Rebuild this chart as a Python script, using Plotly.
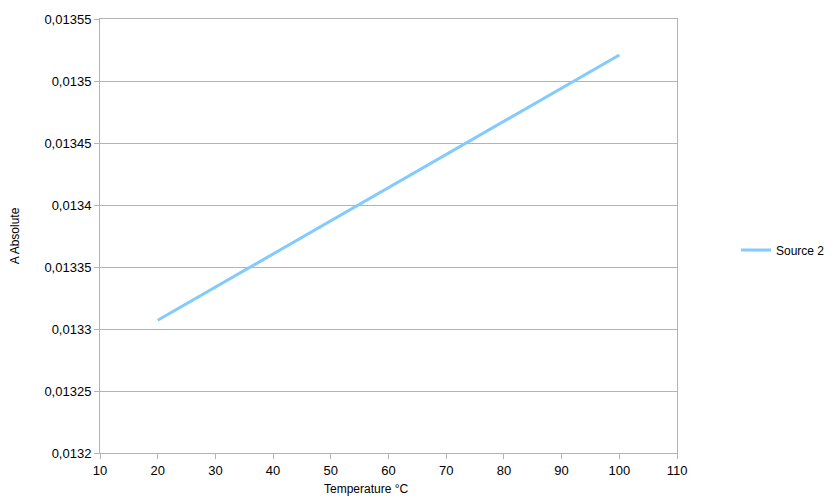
import plotly.graph_objects as go

temperature = [20, 100]
a_absolute = [0.013307, 0.013521]
series_name = "Source 2"

x_ticks = list(range(10, 111, 10))
y_ticks = [0.0132, 0.01325, 0.0133, 0.01335, 0.0134, 0.01345, 0.0135, 0.01355]

fig = go.Figure()
fig.add_trace(go.Scatter(
    x=temperature, y=a_absolute, mode="lines", name=series_name,
    line=dict(color="#83CAFF", width=3),
))

grid = "#b3b3b3"
# page body has an 8px margin, so the figure is drawn 8px smaller with offset margins
fig.update_layout(
    width=832, height=493,
    margin=dict(l=92, r=162, t=11, b=48),
    paper_bgcolor="white", plot_bgcolor="white",
    font=dict(family="Liberation Sans, Arial, sans-serif", size=13, color="#000000"),
    separators=", ",
    showlegend=True,
    legend=dict(x=1 + 58 / 578, y=0.468, xanchor="left", yanchor="middle",
                font=dict(size=12), bgcolor="rgba(0,0,0,0)"),
    xaxis=dict(
        range=[10, 110], tickvals=x_ticks, showgrid=False, automargin=False,
        showline=True, linecolor=grid, linewidth=1, mirror=True,
        ticks="outside", ticklen=5, tickcolor=grid, zeroline=False,
        tickfont=dict(size=13),
    ),
    yaxis=dict(
        range=[0.0132, 0.01355], tickvals=y_ticks, tickformat=".5~f", automargin=False,
        showgrid=True, gridcolor=grid, gridwidth=1,
        showline=True, linecolor=grid, linewidth=1, mirror=True,
        ticks="outside", ticklen=5, tickcolor=grid, zeroline=False,
        tickfont=dict(size=13),
        title=dict(text="A Absolute", font=dict(size=12), standoff=22),
    ),
    annotations=[dict(
        text="Temperature °C", xref="paper", yref="paper",
        x=(366 - 100) / 578, y=-(489 - 453) / 434,
        xanchor="center", yanchor="middle", showarrow=False,
        font=dict(size=12),
    )],
)

fig.write_html("out.html")
